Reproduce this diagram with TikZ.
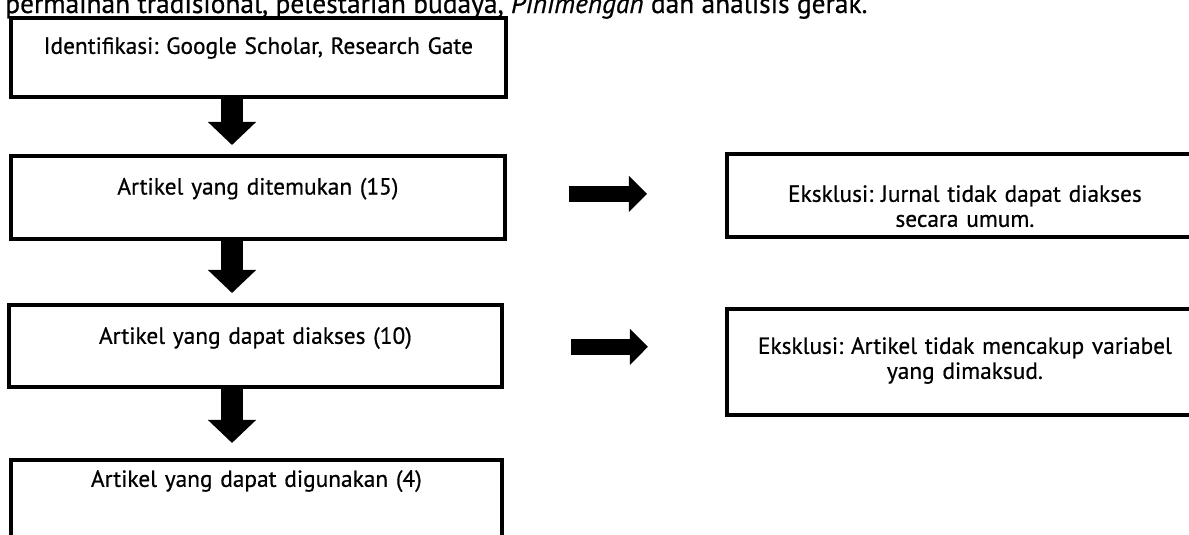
\documentclass[tikz,border=0pt]{standalone}
\usepackage{fontspec}
\setmainfont{PT Sans}[FakeBold=0.6]
\frenchspacing
\usetikzlibrary{arrows.meta, calc, positioning}
\tikzset{
  flowbox/.style   = {draw=black, fill=white, line width=2.6pt, inner sep=0pt,
                      align=center, anchor=north west,
                      font=\fontsize{16.6}{17.8}\selectfont},
  downarrow/.style = {draw=black, line width=15.6pt,
                      -{Triangle[length=16.4pt, width=33.4pt]}},
  sidearrow/.style = {draw=black, line width=11.7pt,
                      -{Triangle[length=12.8pt, width=24.9pt]}},
}

\begin{document}
\begin{tikzpicture}[x=0.025cm, y=-0.025cm]
  \useasboundingbox (0,0) rectangle (1189,534);
  % end of the paragraph above the figure
  \node[anchor=base west, inner sep=0pt, font=\fontsize{19.5}{22}\selectfont] (intro) at (5,13)
    {permainan tradisional, pelestarian budaya, \textit{Pinimengan} dan analisis gerak.};
  % main column
  \node[flowbox, text width=352.1pt, text height=25.6pt, text depth=30.6pt] (ident) at (9,16)
    {Identifikasi: Google Scholar, Research Gate};
  \node[flowbox, text width=351.4pt, text height=27.5pt, text depth=31.6pt] (found) at (9,154)
    {Artikel yang ditemukan (15)};
  \node[flowbox, text width=350.7pt, text height=27.7pt, text depth=30.6pt] (access) at (7,303)
    {Artikel yang dapat diakses (10)};
  \node[flowbox, text width=349.2pt, text height=19.2pt, text depth=51.9pt] (used) at (9,458)
    {Artikel yang dapat digunakan (4)};
  % exclusions
  \node[flowbox, text width=338.6pt, text height=34.1pt, text depth=24.9pt] (excl1) at (725,152)
    {Eksklusi: Jurnal tidak dapat diakses\\ secara umum.};
  \node[flowbox, text width=338.6pt, text height=32pt, text depth=43.4pt] (excl2) at (725,307)
    {Eksklusi: Artikel tidak mencakup variabel\\ yang dimaksud.};
  % arrows
  \coordinate (ax) at (232,0);
  \draw[downarrow, shorten >=6.4pt] (ident.south -| ax) -- (found.north -| ax);
  \draw[downarrow, shorten >=7.1pt] (found.south -| ax) -- (access.north -| ax);
  \draw[downarrow, shorten >=10.7pt] (access.south -| ax) -- (used.north -| ax);
  \coordinate (h1) at ($(found.east)+(62,-3.5)$);
  \coordinate (h2) at ($(access.east)+(67,1)$);
  \draw[sidearrow, shorten >=55.5pt] (h1) -- (h1 -| excl1.west);
  \draw[sidearrow, shorten >=54.8pt] (h2) -- (h2 -| excl2.west);
\end{tikzpicture}
\end{document}
